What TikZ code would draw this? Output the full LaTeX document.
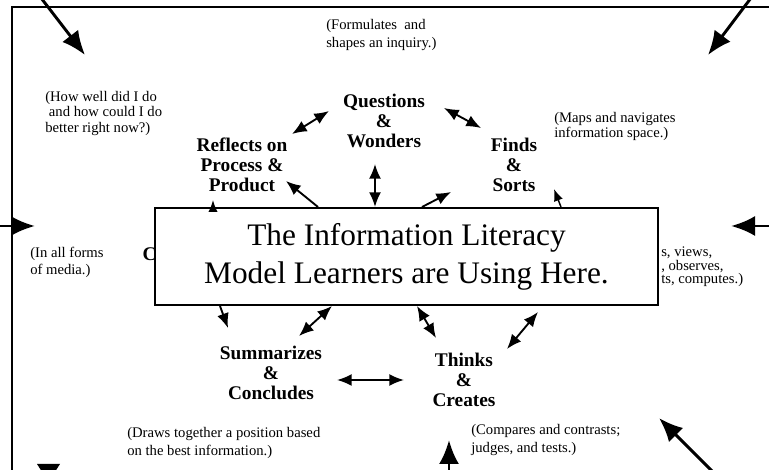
\documentclass[tikz,border=0pt]{standalone}
\usepackage{fontspec}
\setmainfont{Liberation Serif}
\usetikzlibrary{arrows.meta}

\begin{document}
\begin{tikzpicture}[x=0.75pt, y=-0.75pt, >={Latex[length=11pt,width=9pt]},
    stage/.style={font=\fontsize{14.5}{15}\selectfont\bfseries, align=center, inner sep=1pt},
    note/.style={font=\fontsize{11}{#1}\selectfont, align=left, anchor=north west, inner sep=0pt},
    note/.default=12,
    link/.style={line width=1.4pt},
    tiny/.style={line width=1.1pt, -{Latex[length=9pt,width=7pt]}},
    outer/.style={line width=2.2pt, -{Latex[length=18pt,width=15pt]}}]
    \useasboundingbox (0,0) rectangle (769,470);
    \draw[line width=2pt] (12,480) -- (12,7) -- (780,7);

    % the model in the middle
    \node[draw, fill=white, line width=1.4pt, minimum width=377pt, minimum height=72.75pt,
          font=\fontsize{23.5}{28.5}\selectfont, align=center] (model) at (406.5,256.5)
          {The Information Literacy\\Model Learners are Using Here.};

    % stages round the model
    \node[stage] (questions)  at (384,121) {Questions\\\&\\Wonders};
    \node[stage] (reflects)   at (242,165) {Reflects on\\Process \&\\Product};
    \node[stage] (finds)      at (514,165) {Finds\\\&\\Sorts};
    \node[stage] (summarizes) at (271,373) {Summarizes\\\&\\Concludes};
    \node[stage] (thinks)     at (464,380) {Thinks\\\&\\Creates};
    \node[stage, anchor=west] (consults) at (141,254) {C};

    % notes
    \node[note=13.5] (formulates) at (326,19)  {(Formulates\ \ and\\shapes an inquiry.)};
    \node[note=11.6] (howwell)    at (45,91)   {(How well did I do\\\ and how could I do\\better right now?)};
    \node[note=11.3] (maps)       at (554,112) {(Maps and navigates\\information space.)};
    \node[note=12.5] (media)      at (30,247)  {(In all forms\\of media.)};
    \node[note=10]   (views)      at (661,247) {s, views,\\, observes,\\ts, computes.)};
    \node[note=13.5] (draws)      at (127,427) {(Draws together a position based\\on the best information.)};
    \node[note=13.5] (compares)   at (471,424) {(Compares and contrasts;\\judges, and tests.)};

    % ends of the links
    \coordinate (rq1) at (292,134); \coordinate (rq2) at (329,111);
    \coordinate (qf1) at (444,108); \coordinate (qf2) at (481,128);
    \coordinate (qm1) at (375,164); \coordinate (qm2) at (375,207);
    \coordinate (mr1) at (318,207); \coordinate (mr2) at (286,181);
    \coordinate (mf1) at (422,207); \coordinate (mf2) at (451,192);
    \coordinate (ms1) at (561,207); \coordinate (ms2) at (554,189);
    \coordinate (mc1) at (213,208); \coordinate (mc2) at (213,200);
    \coordinate (md1) at (220,306); \coordinate (md2) at (228,328);
    \coordinate (mu1) at (332,306); \coordinate (mu2) at (299,336);
    \coordinate (mt1) at (417,306); \coordinate (mt2) at (436,338);
    \coordinate (tm1) at (538,312); \coordinate (tm2) at (507,349);
    \coordinate (st1) at (337,380); \coordinate (st2) at (404,380);

    \draw[link, <->] (rq1) -- (rq2);
    \draw[link, <->] (qf1) -- (qf2);
    \draw[link, <->] (qm1) -- (qm2);
    \draw[link, ->]  (mr1) -- (mr2);
    \draw[link, ->]  (mf1) -- (mf2);
    \draw[tiny]      (ms1) -- (ms2);
    \draw[tiny]      (mc1) -- (mc2);
    \draw[link, ->]  (md1) -- (md2);
    \draw[link, <->] (mu1) -- (mu2);
    \draw[link, <->] (mt1) -- (mt2);
    \draw[link, <->] (tm1) -- (tm2);
    \draw[link, <->] (st1) -- (st2);

    % arrows coming in from outside
    \foreach \xa/\ya/\xb/\yb in {38/-6/85/55, 754/-6/708/55, -5/226/35/226, 775/226/731/226,
                                 719/478/659/418, 449/480/449/440}
        \draw[outer] (\xa,\ya) -- (\xb,\yb);
    \fill (37,464) -- (60,464) -- (48.5,482) -- cycle;
\end{tikzpicture}
\end{document}
